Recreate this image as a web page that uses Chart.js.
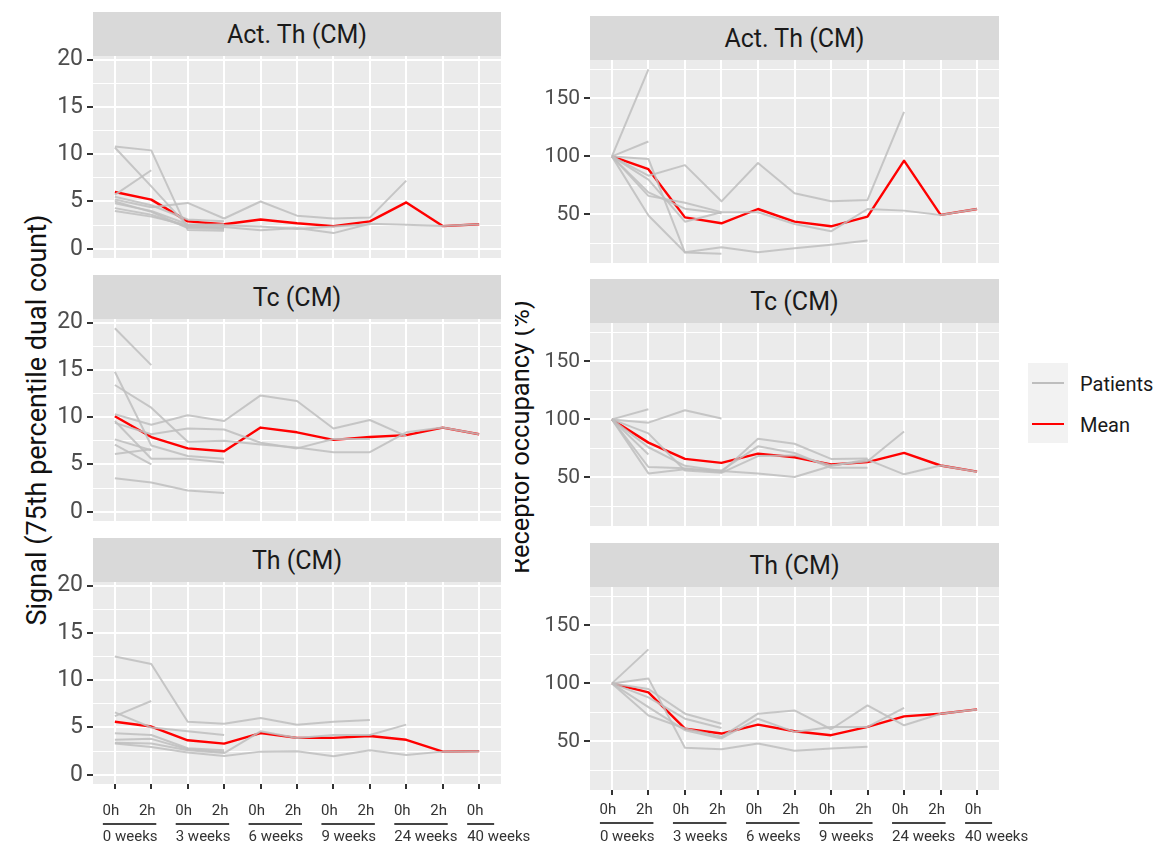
<!DOCTYPE html>
<html>
<head>
<meta charset="utf-8">
<script src="https://cdn.jsdelivr.net/npm/chart.js@4.4.1/dist/chart.umd.min.js"></script>
<style>
  body { margin: 0; background: #fff; font-family: Roboto, "Liberation Sans", sans-serif; }
  #fig { position: relative; width: 1168px; height: 855px; overflow: hidden; }
  #fig canvas { position: absolute; }
  .strip { position: absolute; height: 44px; background: #d9d9d9; color: #1a1a1a; font-size: 25px;
           display: flex; align-items: center; justify-content: center; }
  .ytitle { position: absolute; color: #111; white-space: nowrap;
            transform: translate(-50%, -50%) rotate(-90deg); }
  .clip { position: absolute; overflow: hidden; }
  .key { position: absolute; left: 1028px; top: 363px; width: 40px; height: 80px; background: #f2f2f2; }
  .keyline { position: absolute; left: 4px; width: 32px; height: 2px; }
  .keytext { position: absolute; left: 1080px; font-size: 20px; color: #1a1a1a; transform: translateY(-50%); }
</style>
</head>
<body>
<div id="fig">
  <div class="ytitle" style="left:37px; top:420px; font-size:27px;">Signal (75th percentile dual count)</div>
  <div class="clip" style="left:515px; top:0; width:30px; height:855px;">
    <div class="ytitle" style="left:5px; top:437px; font-size:25.5px;">Receptor occupancy (%)</div>
  </div>
  <div class="key">
    <div class="keyline" style="top:19px; background:#bebebe;"></div>
    <div class="keyline" style="top:60px; background:#ff0000;"></div>
  </div>
  <div class="keytext" style="top:384px;">Patients</div>
  <div class="keytext" style="top:425px;">Mean</div>
</div>
<script>
// x categories: sampling time within each visit week
const timeLabels = ['0h', '2h', '0h', '2h', '0h', '2h', '0h', '2h', '0h', '2h', '0h'];
const weekLabels = ['0 weeks', '3 weeks', '6 weeks', '9 weeks', '24 weeks', '40 weeks'];

const signalTicks = [0, 5, 10, 15, 20];
const occupancyTicks = [50, 100, 150];

// Signal (75th percentile dual count)
const actThSignalMean = [6.0, 5.2, 2.9, 2.6, 3.1, 2.7, 2.4, 2.9, 4.9, 2.4, 2.6];
const actThSignalPatients = [
  [10.8, 10.4, 2.0, 1.9, null, null, null, null, null, null, null],
  [10.7, 6.6, 2.4, 2.2, null, null, null, null, null, null, null],
  [5.7, 8.3, null, null, null, null, null, null, null, null, null],
  [5.2, 4.4, 4.85, 3.2, 5.0, 3.5, 3.2, 3.3, 7.2, null, null],
  [4.3, 3.6, 2.3, 2.3, 1.95, 2.2, 1.66, 2.65, 2.55, 2.4, 2.6],
  [4.8, 4.0, 2.6, 2.5, 2.35, 2.1, 2.35, 2.6, null, null, null],
  [5.0, 3.9, 2.2, 2.1, null, null, null, null, null, null, null],
  [4.0, 3.4, 2.5, 2.6, null, null, null, null, null, null, null],
  [5.5, 4.6, 3.1, 2.9, null, null, null, null, null, null, null]
];

const tcSignalMean = [10.1, 7.9, 6.7, 6.4, 8.9, 8.4, 7.6, 7.9, 8.1, 8.9, 8.2];
const tcSignalPatients = [
  [19.4, 15.5, null, null, null, null, null, null, null, null, null],
  [14.8, 7.0, 5.9, 5.6, null, null, null, null, null, null, null],
  [13.4, 11.0, 7.4, 7.5, 7.1, 6.8, 6.3, 6.3, 8.4, 8.9, 8.2],
  [10.3, 9.2, 10.2, 9.6, 12.3, 11.7, 8.8, 9.7, 8.0, null, null],
  [9.4, 8.2, 8.8, 8.7, 7.3, 6.7, 7.7, 7.7, null, null, null],
  [7.65, 6.5, null, null, null, null, null, null, null, null, null],
  [7.1, 5.0, null, null, null, null, null, null, null, null, null],
  [6.1, 6.6, null, null, null, null, null, null, null, null, null],
  [3.55, 3.1, 2.26, 2.0, null, null, null, null, null, null, null],
  [9.6, 5.6, 5.6, 5.2, null, null, null, null, null, null, null]
];

const thSignalMean = [5.6, 5.1, 3.65, 3.3, 4.4, 3.9, 3.9, 4.1, 3.7, 2.45, 2.5];
const thSignalPatients = [
  [12.5, 11.7, 5.6, 5.4, 6.0, 5.3, 5.6, 5.8, null, null, null],
  [6.2, 7.8, null, null, null, null, null, null, null, null, null],
  [6.6, 5.0, 4.6, 4.2, null, null, null, null, null, null, null],
  [4.4, 4.2, 2.8, 2.6, null, null, null, null, null, null, null],
  [3.7, 3.8, 2.7, 2.4, null, null, null, null, null, null, null],
  [3.3, 2.95, 2.35, 2.0, 2.45, 2.5, 1.95, 2.6, 2.1, 2.45, 2.5],
  [3.4, 3.3, 2.6, 2.3, 4.6, 3.9, 4.2, 4.2, 5.3, null, null]
];

// Receptor occupancy (%)
const actThOccMean = [100, 89, 47.5, 42.4, 54.7, 43.8, 39.8, 48.1, 96.3, 49.6, 54.7];
const actThOccPatients = [
  [100, 175, null, null, null, null, null, null, null, null, null],
  [100, 112.8, null, null, null, null, null, null, null, null, null],
  [100, 83.4, 92.5, 61.3, 94.3, 68.2, 61.3, 62.5, 138.4, null, null],
  [100, 49.1, 17.5, 21.8, 17.5, 21, 24, 27.5, null, null, null],
  [100, 97.8, 17.2, 16.1, null, null, null, null, null, null, null],
  [100, 66, 60, 52, null, null, null, null, null, null, null],
  [100, 69, 55, 51, null, null, null, null, null, null, null],
  [100, 80, 43.8, 51.9, 51.9, 41.8, 35.5, 54.7, 53.3, 49.6, 54.7]
];

const tcOccMean = [100, 80, 66, 62.6, 70.5, 67.4, 61.2, 63.2, 71.1, 60.3, 55];
const tcOccPatients = [
  [100, 108.8, null, null, null, null, null, null, null, null, null],
  [100, 97.2, 107.9, 100.8, null, null, null, null, null, null, null],
  [100, 59, 58, 54.5, 83.3, 79, 66, 66.3, null, null, null],
  [100, 53.5, 57, 56, 76.8, 71.1, 58.4, 58.4, null, null, null],
  [100, 76, 60, 55.5, 53.5, 50.4, 59.8, 65.4, 52.7, 60.3, 55],
  [100, 88, 56, 54, 68.4, 69, 60.6, 64, 89.5, null, null],
  [100, 69.7, null, null, null, null, null, null, null, null, null]
];

const thOccMean = [100, 92.3, 61.1, 56.8, 64.5, 58.8, 55.4, 62.5, 71.6, 73.9, 77.6];
const thOccPatients = [
  [100, 129.3, null, null, null, null, null, null, null, null, null],
  [100, 104.3, 44.6, 43.2, 48.3, 42, 44, 45.5, null, null, null],
  [100, 95.2, 73.9, 65.3, null, null, null, null, null, null, null],
  [100, 88, 69.6, 61.6, null, null, null, null, null, null, null],
  [100, 72.4, 61.1, 54, 73.9, 76.7, 60.5, 81, 63.9, 73.9, 77.6],
  [100, 79.5, 59.7, 52.6, 69.6, 58.2, 62.5, 62.5, 79, null, null]
];

const PATIENT_COLOR = 'rgba(190, 190, 190, 0.85)';
const MEAN_COLOR = '#ff0000';
const PAD = 16; // room for the top/bottom tick labels outside the panel

// grey panel background behind the grid
const panelBackground = {
  id: 'panelBackground',
  beforeDraw(chart) {
    const { ctx, chartArea: a } = chart;
    ctx.save();
    ctx.fillStyle = '#ebebeb';
    ctx.fillRect(a.left, a.top, a.right - a.left, a.bottom - a.top);
    ctx.restore();
  }
};

// underline + week name under each 0h/2h pair
const weekGroups = {
  id: 'weekGroups',
  afterDraw(chart, args, opts) {
    if (!opts.show) return;
    const { ctx } = chart;
    const xs = chart.scales.x;
    const bottom = chart.chartArea.bottom;
    const groups = [];
    timeLabels.forEach((t, i) => {
      if (t === '0h') groups.push([i]);
      else groups[groups.length - 1].push(i);
    });
    ctx.save();
    ctx.font = '15px Roboto, "Liberation Sans", sans-serif';
    ctx.fillStyle = '#333';
    ctx.strokeStyle = '#444';
    ctx.lineWidth = 2;
    ctx.textBaseline = 'middle';
    ctx.textAlign = 'left';
    groups.forEach((g, k) => {
      const x0 = xs.getPixelForValue(g[0]) - 12;
      const x1 = g.length > 1 ? xs.getPixelForValue(g[g.length - 1]) + 5 : x0 + 27;
      ctx.beginPath();
      ctx.moveTo(x0, bottom + opts.lineY);
      ctx.lineTo(x1, bottom + opts.lineY);
      ctx.stroke();
      ctx.fillText(weekLabels[k], x0, bottom + opts.textY);
    });
    ctx.restore();
  }
};

function makePanel(p) {
  const canvas = document.createElement('canvas');
  canvas.width = p.width;
  canvas.height = PAD + p.plotHeight + (p.bottom ? p.axisHeight : PAD);
  canvas.style.left = p.left + 'px';
  canvas.style.top = (p.top - PAD) + 'px';
  document.getElementById('fig').appendChild(canvas);

  const strip = document.createElement('div');
  strip.className = 'strip';
  strip.textContent = p.title;
  strip.style.left = (p.left + p.axisWidth) + 'px';
  strip.style.top = (p.top - 44) + 'px';
  strip.style.width = (p.width - p.axisWidth - p.padRight) + 'px';
  document.getElementById('fig').appendChild(strip);

  const majors = p.ticks;
  const step = majors[1] - majors[0];
  const gridValues = [];
  for (let v = majors[0] - step / 2; v <= p.max; v += step / 2) {
    if (v >= p.min) gridValues.push(v);
  }
  const isMajor = v => majors.includes(v);

  const toPoints = arr => arr.map((y, i) => ({ x: i, y: y }));
  const datasets = p.patients.map(arr => ({
    data: toPoints(arr),
    borderColor: PATIENT_COLOR,
    borderWidth: 2,
    order: 0
  }));
  datasets.push({ data: toPoints(p.mean), borderColor: MEAN_COLOR, borderWidth: 2.4, order: 1 });

  return new Chart(canvas, {
    type: 'line',
    data: { datasets },
    plugins: [panelBackground, weekGroups],
    options: {
      responsive: false,
      animation: false,
      devicePixelRatio: 1,
      layout: { autoPadding: false, padding: { left: 0, right: p.padRight, top: PAD, bottom: p.bottom ? 0 : PAD } },
      elements: { point: { radius: 0 }, line: { tension: 0, borderJoinStyle: 'round' } },
      spanGaps: false,
      plugins: {
        legend: { display: false },
        tooltip: { enabled: false },
        weekGroups: { show: p.bottom, lineY: p.lineY, textY: p.textY }
      },
      scales: {
        x: {
          type: 'linear',
          min: -0.6,
          max: timeLabels.length - 0.4,
          afterBuildTicks: s => { s.ticks = timeLabels.map((_, i) => ({ value: i })); },
          afterFit: s => {
            s.height = p.bottom ? p.axisHeight : 0;
            s.paddingLeft = 0;
            s.paddingRight = 0;
          },
          ticks: {
            display: p.bottom,
            autoSkip: false,
            maxRotation: 0,
            padding: p.labelPad,
            labelOffset: -4,
            color: '#333',
            font: { size: 15, family: 'Roboto' },
            callback: v => timeLabels[v]
          },
          grid: { color: '#fff', lineWidth: 2, drawTicks: p.bottom, tickLength: 5, tickColor: '#333', tickWidth: 2 },
          border: { display: false }
        },
        y: {
          min: p.min,
          max: p.max,
          afterBuildTicks: s => { s.ticks = gridValues.map(v => ({ value: v })); },
          afterFit: s => {
            s.width = p.axisWidth;
            s.paddingTop = 0;
            s.paddingBottom = 0;
          },
          ticks: {
            autoSkip: false,
            padding: 4,
            color: '#4d4d4d',
            font: { size: p.tickFont, family: 'Roboto' },
            callback: v => isMajor(v) ? String(v) : ''
          },
          grid: {
            color: '#fff',
            lineWidth: c => isMajor(c.tick && c.tick.value) ? 2 : 1,
            tickColor: c => isMajor(c.tick && c.tick.value) ? '#333' : 'rgba(0,0,0,0)',
            tickLength: 6,
            tickWidth: 2
          },
          border: { display: false }
        }
      }
    }
  });
}

const leftCol = { left: 0, width: 540, axisWidth: 93, padRight: 39, tickFont: 23, ticks: signalTicks, min: -0.97, max: 20.37, plotHeight: 202, axisHeight: 70, labelPad: 13, lineY: 40, textY: 53 };
const rightCol = { left: 505, width: 545, axisWidth: 85, padRight: 51, tickFont: 21, ticks: occupancyTicks, min: 8.2, max: 183, plotHeight: 203, axisHeight: 65, labelPad: 6, lineY: 33, textY: 47 };

const panels = [
  { ...leftCol, title: 'Act. Th (CM)', top: 56, bottom: false, mean: actThSignalMean, patients: actThSignalPatients },
  { ...leftCol, title: 'Tc (CM)', top: 319, bottom: false, mean: tcSignalMean, patients: tcSignalPatients },
  { ...leftCol, title: 'Th (CM)', top: 582, bottom: true, mean: thSignalMean, patients: thSignalPatients },
  { ...rightCol, title: 'Act. Th (CM)', top: 60, bottom: false, mean: actThOccMean, patients: actThOccPatients },
  { ...rightCol, title: 'Tc (CM)', top: 323, bottom: false, mean: tcOccMean, patients: tcOccPatients },
  { ...rightCol, title: 'Th (CM)', top: 587, bottom: true, mean: thOccMean, patients: thOccPatients }
];

panels.forEach(makePanel);
</script>
</body>
</html>
